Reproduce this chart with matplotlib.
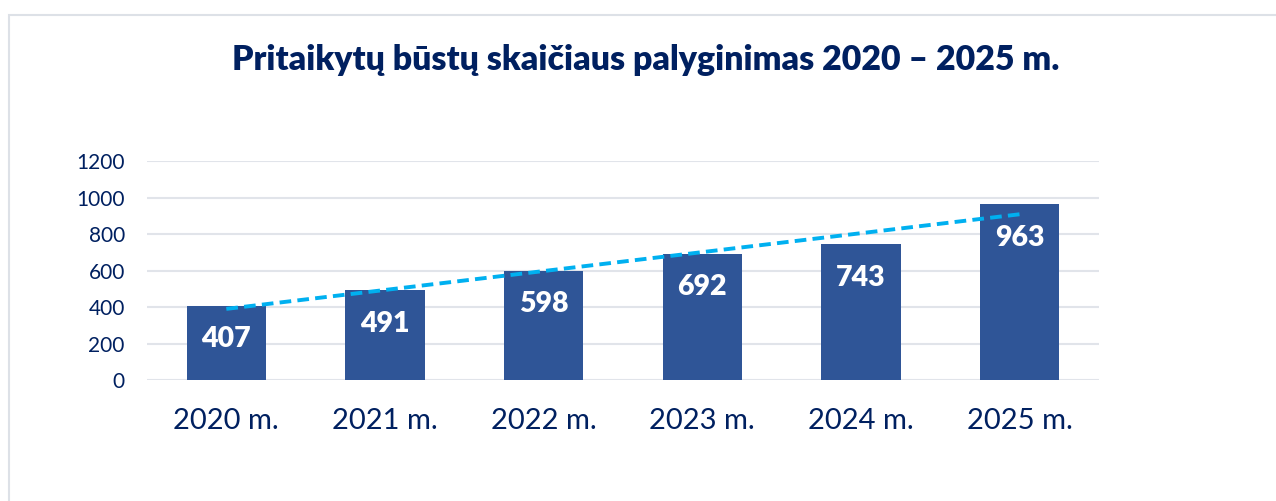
import matplotlib.pyplot as plt
import numpy as np
from matplotlib.patches import Rectangle

plt.rcParams['font.family'] = ['Lato', 'DejaVu Sans']

years = ["2020 m.", "2021 m.", "2022 m.", "2023 m.", "2024 m.", "2025 m."]
counts = [407, 491, 598, 692, 743, 963]

navy = "#002060"
bar_color = "#2F5597"
trend_color = "#00B0F0"
grid_color = "#E1E4EA"

fig = plt.figure(figsize=(12.76, 5.01), dpi=100)
ax = fig.add_axes([0.1152, 0.2415, 0.7461, 0.4371])

x = np.arange(len(years))
bars = ax.bar(x, counts, width=0.5, color=bar_color, zorder=2)

# linear trend over the bar values
slope, intercept = np.polyfit(x, counts, 1)
ax.plot(x, slope * x + intercept, color=trend_color, linewidth=2.8,
        linestyle=(0, (3, 1.6)), zorder=3)

for xi, v in zip(x, counts):
    ax.annotate(str(v), (xi, v), xytext=(0, -24), textcoords="offset points",
                ha="center", va="center", color="white",
                fontsize=20.5, fontweight="heavy", zorder=4)

ax.set_xlim(-0.5, len(years) - 0.5)
ax.set_ylim(0, 1200)
ax.set_yticks(range(0, 1201, 200))
ax.set_xticks(x)
ax.set_xticklabels(years)
ax.tick_params(axis="y", length=0, pad=16, labelsize=15, labelcolor=navy)
ax.tick_params(axis="x", length=0, pad=20, labelsize=21, labelcolor=navy)
ax.yaxis.grid(True, color=grid_color, linewidth=1.5, zorder=0)
ax.set_axisbelow(True)
for s in ax.spines.values():
    s.set_visible(False)

fig.text(0.506, 0.88, "Pritaikytų būstų skaičiaus palyginimas 2020 – 2025 m.",
         ha="center", va="center", fontsize=24.4, fontweight="heavy", color=navy)

# outer chart frame
fig.patches.append(Rectangle((9 / 1276, -0.05), 1.1, 0.05 + (501 - 15) / 501,
                             transform=fig.transFigure, fill=False,
                             edgecolor="#DDE1E7", linewidth=1.5))

fig.savefig("out.png", dpi=100)
